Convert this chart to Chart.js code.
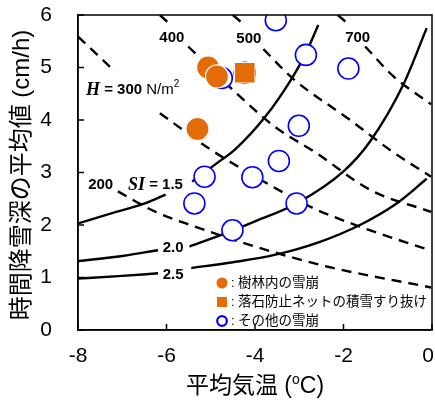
<!DOCTYPE html>
<html>
<head>
<meta charset="utf-8">
<script src="https://cdn.jsdelivr.net/npm/chart.js@4.4.1/dist/chart.umd.min.js"></script>
<style>
  body { margin: 0; background: #fff; }
  #wrap { width: 435px; height: 400px; }
</style>
</head>
<body>
<div id="wrap"><canvas id="chart" width="435" height="400"></canvas></div>
<script>
// ejes
const xTicks = [-8, -6, -4, -2, 0];
const yTicks = [0, 1, 2, 3, 4, 5, 6];

// puntos observados [temperatura, nevada]
const forestAvalanche = [[-5.06, 5.0], [-4.86, 4.83], [-5.3, 3.83]];
const netPassThrough = [[-4.23, 4.9]];
const otherAvalanche = [
  [-3.53, 5.9], [-2.85, 5.24], [-1.89, 4.98], [-4.75, 4.8], [-4.23, 4.9],
  [-3.01, 3.89], [-3.46, 3.22], [-5.14, 2.92], [-4.06, 2.91],
  [-5.37, 2.41], [-3.06, 2.41], [-4.51, 1.9]
];

// curvas SI (sólidas), null = hueco para la etiqueta
const si15 = [[-8, 2.03], [-7.25, 2.22], [-6.49, 2.41], [-6.02, 2.58], [-5.7, null],
  [-5.42, 2.83], [-4.76, 3.24], [-4.46, 3.43], [-3.77, 4.06], [-3.17, 4.79], [-2.87, 5.24], [-2.57, 5.81]];
const si20 = [[-8, 1.31], [-7, 1.41], [-6.19, 1.52], [-5.8, null],
  [-5.48, 1.59], [-4.76, 1.81], [-4.0, 2.07], [-3.06, 2.41], [-2.0, 3.02], [-1.4, 3.59], [-0.65, 4.67], [-0.12, 5.75]];
const si25 = [[-8, 0.98], [-7, 1.03], [-6.19, 1.08], [-5.8, null],
  [-5.44, 1.18], [-4.5, 1.29], [-3.56, 1.43], [-2.53, 1.68], [-1.63, 2.0], [-0.8, 2.41], [-0.12, 2.88]];

// curvas H (discontinuas)
const h200 = [[-7.1, 2.64], [-6.27, 2.26], [-5.36, 1.97], [-4.0, 1.59], [-2.38, 1.21], [-0.02, 0.81]];
const h300 = [[-8, 5.59], [-7.16, 4.92], [-6.6, null],
  [-6.15, 4.13], [-4.99, 3.43], [-3.93, 2.89], [-2.68, 2.32], [-1.63, 1.97], [-0.02, 1.51]];
const h400 = [[-6.15, 6.0], [-5.93, 5.83], [-5.7, null],
  [-5.51, 5.4], [-4.38, 4.48], [-3.55, 3.87], [-2.61, 3.37], [-1.4, 2.67], [-0.02, 2.25]];
const h500 = [[-4.5, 6.0], [-4.22, 5.8], [-4.0, null],
  [-3.81, 5.35], [-3.13, 4.78], [-1.85, 4.0], [-0.95, 3.43], [-0.02, 2.92]];
const h700 = [[-2.13, 6.0], [-1.92, 5.85], [-1.7, null],
  [-1.51, 5.4], [-0.87, 4.83], [-0.02, 4.3]];

// etiquetas de curvas [x, y, texto]
const hLabels = [[-5.88, 5.56, "400"], [-4.14, 5.54, "500"], [-1.68, 5.56, "700"]];
const siLabels = [[-5.85, 1.56, "2.0"], [-5.85, 1.05, "2.5"]];
const legendLabels = ["樹林内の雪崩", "落石防止ネットの積雪すり抜け", "その他の雪崩"];
const xTitle = "平均気温";
const yTitle = "時間降雪深の平均値 (cm/h)";

const ORANGE = "#E36C09";
const BLUE = "#0000FF";
const SANS = '"Liberation Sans", "Noto Sans CJK JP", sans-serif';
const SERIF = '"Liberation Serif", serif';

const toPts = (arr) => arr.map(([x, y]) => ({ x, y }));

function curve(arr, dashed) {
  return {
    type: "line",
    data: toPts(arr),
    borderColor: "#000",
    borderWidth: 2.4,
    borderDash: dashed ? [10, 7] : [],
    pointRadius: 0,
    cubicInterpolationMode: "monotone",
    spanGaps: false,
    fill: false,
    order: 3,
  };
}

// dibuja trozos de texto con fuentes distintas
function drawRuns(ctx, x, y, runs) {
  let cx = x;
  runs.forEach((r) => {
    ctx.font = r.font;
    ctx.fillText(r.text, cx, y + (r.dy || 0));
    cx += ctx.measureText(r.text).width;
  });
  return cx - x;
}
function runsWidth(ctx, runs) {
  let w = 0;
  runs.forEach((r) => { ctx.font = r.font; w += ctx.measureText(r.text).width; });
  return w;
}

// quitar el relleno automático que añaden las etiquetas de los ticks
function noPad(s) {
  s.paddingLeft = 0;
  s.paddingRight = 0;
  s.paddingTop = 0;
  s.paddingBottom = 0;
}

const decorPlugin = {
  id: "decor",
  afterDatasetsDraw(chart) {
    const { ctx, chartArea: a, scales } = chart;
    const sx = scales.x, sy = scales.y;
    ctx.save();
    ctx.fillStyle = "#000";
    ctx.textBaseline = "middle";

    // etiquetas H
    ctx.textAlign = "center";
    ctx.font = "bold 15px " + SANS;
    hLabels.forEach(([x, y, t]) => ctx.fillText(t, sx.getPixelForValue(x), sy.getPixelForValue(y)));
    siLabels.forEach(([x, y, t]) => ctx.fillText(t, sx.getPixelForValue(x), sy.getPixelForValue(y)));

    ctx.textAlign = "left";
    drawRuns(ctx, sx.getPixelForValue(-7.82), sy.getPixelForValue(4.57), [
      { text: "H", font: "bold italic 18px " + SERIF },
      { text: " = 300 ", font: "bold 15px " + SANS },
      { text: "N/m", font: "15px " + SANS },
      { text: "2", font: "10px " + SANS, dy: -6 },
    ]);
    drawRuns(ctx, sx.getPixelForValue(-7.77), sy.getPixelForValue(2.76), [
      { text: "200", font: "bold 15px " + SANS },
    ]);
    drawRuns(ctx, sx.getPixelForValue(-6.87), sy.getPixelForValue(2.76), [
      { text: "SI", font: "bold italic 18px " + SERIF },
      { text: " = 1.5", font: "bold 15px " + SANS },
    ]);

    // leyenda dentro del gráfico
    const lx = a.left + 144;
    const rows = [a.bottom - 47, a.bottom - 28, a.bottom - 9];
    ctx.fillStyle = ORANGE;
    ctx.beginPath();
    ctx.arc(lx, rows[0], 5.5, 0, Math.PI * 2);
    ctx.fill();
    ctx.fillRect(lx - 5, rows[1] - 5, 10, 10);
    ctx.strokeStyle = BLUE;
    ctx.lineWidth = 2.2;
    ctx.beginPath();
    ctx.arc(lx, rows[2], 4.8, 0, Math.PI * 2);
    ctx.stroke();
    ctx.fillStyle = "#000";
    legendLabels.forEach((t, i) => {
      ctx.font = "13px " + SANS;
      ctx.fillText(":", lx + 9, rows[i]);
      ctx.font = "13.5px " + SANS;
      ctx.fillText(t, lx + 16, rows[i]);
    });
    ctx.restore();
  },
  afterDraw(chart) {
    const { ctx, chartArea: a, scales } = chart;
    ctx.save();
    // marco
    ctx.strokeStyle = "#000";
    ctx.lineWidth = 1.5;
    ctx.strokeRect(a.left, a.top, a.right - a.left, a.bottom - a.top);
    // ticks hacia dentro
    ctx.beginPath();
    yTicks.forEach((v) => {
      const py = scales.y.getPixelForValue(v);
      ctx.moveTo(a.left, py);
      ctx.lineTo(a.left + 6, py);
    });
    xTicks.forEach((v) => {
      const px = scales.x.getPixelForValue(v);
      ctx.moveTo(px, a.bottom);
      ctx.lineTo(px, a.bottom - 6);
    });
    ctx.stroke();

    // la etiqueta "0" del borde derecho, desplazada para que no se corte
    ctx.fillStyle = "#000";
    ctx.textBaseline = "middle";
    ctx.textAlign = "right";
    ctx.font = "21px " + SANS;
    ctx.fillText("0", scales.x.getPixelForValue(0) + 2, 356);

    // títulos de ejes
    ctx.textAlign = "left";
    const xr = [
      { text: xTitle + " (", font: "23px " + SANS },
      { text: "o", font: "14px " + SANS, dy: -7 },
      { text: "C)", font: "23px " + SANS },
    ];
    const w = runsWidth(ctx, xr);
    drawRuns(ctx, (a.left + a.right) / 2 - w / 2, 387, xr);

    ctx.translate(22, 175);
    ctx.rotate(-Math.PI / 2);
    ctx.textAlign = "center";
    ctx.font = "24px " + SANS;
    ctx.fillText(yTitle, 0, 0);
    ctx.restore();
  },
};

new Chart(document.getElementById("chart"), {
  type: "scatter",
  data: {
    datasets: [
      {
        data: toPts(forestAvalanche),
        backgroundColor: ORANGE,
        borderColor: "#fff",
        borderWidth: 1.2,
        pointRadius: 11.5,
        order: 0,
      },
      {
        data: toPts(netPassThrough),
        pointStyle: "rect",
        backgroundColor: ORANGE,
        borderColor: "#fff",
        borderWidth: 1,
        pointRadius: 14.5,
        order: 1,
      },
      {
        data: toPts(otherAvalanche),
        backgroundColor: "#fff",
        borderColor: BLUE,
        borderWidth: 1.6,
        pointRadius: 10.5,
        order: 2,
      },
      curve(si15, false),
      curve(si20, false),
      curve(si25, false),
      curve(h200, true),
      curve(h300, true),
      curve(h400, true),
      curve(h500, true),
      curve(h700, true),
    ],
  },
  options: {
    responsive: false,
    animation: false,
    layout: { autoPadding: false, padding: { top: 15, right: 3, left: 0, bottom: 0 } },
    plugins: { legend: { display: false }, tooltip: { enabled: false } },
    scales: {
      x: {
        type: "linear",
        min: -8,
        max: 0,
        afterFit: (s) => { s.height = 70; noPad(s); },
        afterBuildTicks: (s) => { s.ticks = xTicks.map((v) => ({ value: v })); },
        ticks: {
          color: "#000",
          font: { family: SANS, size: 21 },
          padding: 14,
          maxRotation: 0,
          callback: (v) => (v === 0 ? "" : v),
        },
        grid: { drawOnChartArea: false, drawTicks: false },
        border: { color: "#000", width: 1.5 },
      },
      y: {
        type: "linear",
        min: 0,
        max: 6,
        afterFit: (s) => { s.width = 78; noPad(s); },
        afterBuildTicks: (s) => { s.ticks = yTicks.map((v) => ({ value: v })); },
        ticks: { color: "#000", font: { family: SANS, size: 21 }, padding: 26 },
        grid: { drawOnChartArea: false, drawTicks: false },
        border: { color: "#000", width: 1.5 },
      },
    },
  },
  plugins: [decorPlugin],
});
</script>
</body>
</html>
